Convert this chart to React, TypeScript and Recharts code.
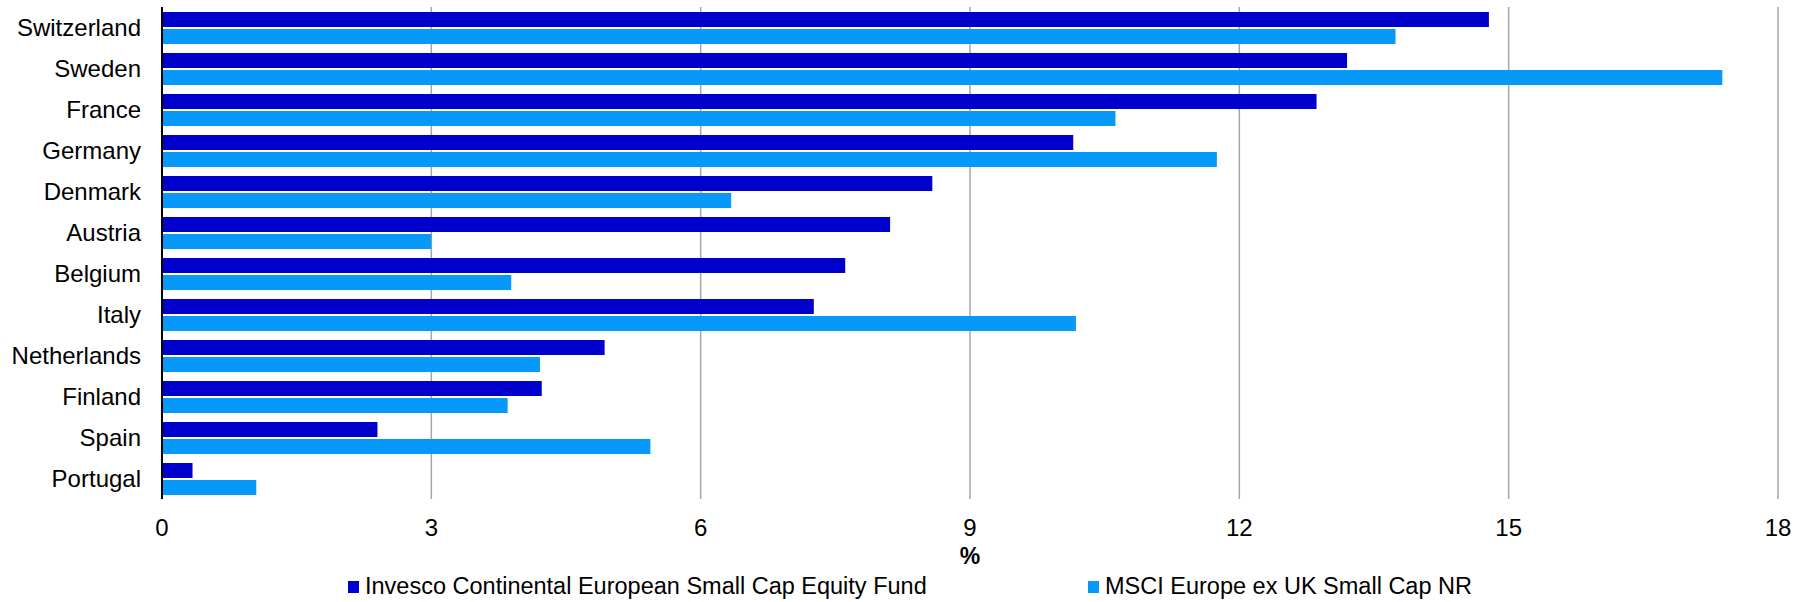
import React from 'react';
import {
  BarChart, Bar, XAxis, YAxis, CartesianGrid, Legend,
} from 'recharts';

const countries = [
  'Switzerland', 'Sweden', 'France', 'Germany', 'Denmark', 'Austria',
  'Belgium', 'Italy', 'Netherlands', 'Finland', 'Spain', 'Portugal',
];
const fundValues = [14.78, 13.2, 12.86, 10.15, 8.58, 8.11, 7.61, 7.26, 4.93, 4.23, 2.4, 0.34];
const indexValues = [13.74, 17.38, 10.62, 11.75, 6.34, 3.0, 3.89, 10.18, 4.21, 3.85, 5.44, 1.05];
const xTicks = [0, 3, 6, 9, 12, 15, 18];

const fundName = 'Invesco Continental European Small Cap Equity Fund';
const indexName = 'MSCI Europe ex UK Small Cap NR';

const FONT = '"Liberation Sans", Arial, sans-serif';
const DARK = '#0000CC';
const LIGHT = '#0799FA';

const data = countries.map((country, i) => ({
  country,
  fund: fundValues[i],
  index: indexValues[i],
}));

const LegendContent = () => (
  <div style={{ position: 'relative', height: 30, fontFamily: FONT, fontSize: 23.5, color: '#000' }}>
    {[
      { name: fundName, color: DARK, left: 348 },
      { name: indexName, color: LIGHT, left: 1088 },
    ].map((item) => (
      <div
        key={item.name}
        style={{ position: 'absolute', left: item.left, top: 1, display: 'flex', alignItems: 'center', whiteSpace: 'nowrap' }}
      >
        <span style={{ display: 'inline-block', width: 11, height: 12, background: item.color, marginRight: 6 }} />
        <span>{item.name}</span>
      </div>
    ))}
  </div>
);

export default function App() {
  return (
    <div style={{ position: 'absolute', left: 0, top: 0, width: 1796, height: 602, background: '#fff' }}>
      <BarChart
        width={1796}
        height={602}
        data={data}
        layout="vertical"
        margin={{ top: 7, right: 18, bottom: 0, left: 0 }}
        barSize={15}
        barGap={2}
      >
        <CartesianGrid horizontal={false} vertical stroke="#a6a6a6" strokeWidth={1.5} />
        <XAxis
          type="number"
          domain={[0, 18]}
          ticks={xTicks}
          interval={0}
          axisLine={false}
          tickLine={false}
          tickSize={0}
          tickMargin={20}
          height={73}
          tick={{ fill: '#000', fontSize: 24, fontFamily: FONT }}
          label={{ value: '%', position: 'insideBottom', offset: 8, fill: '#000', fontSize: 23, fontWeight: 'bold', fontFamily: FONT }}
        />
        <YAxis
          type="category"
          dataKey="country"
          width={162}
          axisLine={{ stroke: '#000', strokeWidth: 2 }}
          tickLine={false}
          tickSize={0}
          tickMargin={21}
          interval={0}
          tick={{ fill: '#000', fontSize: 24, fontFamily: FONT }}
        />
        <Legend verticalAlign="bottom" height={30} content={() => <LegendContent />} />
        <Bar dataKey="fund" name={fundName} fill={DARK} isAnimationActive={false} />
        <Bar dataKey="index" name={indexName} fill={LIGHT} isAnimationActive={false} />
      </BarChart>
    </div>
  );
}
